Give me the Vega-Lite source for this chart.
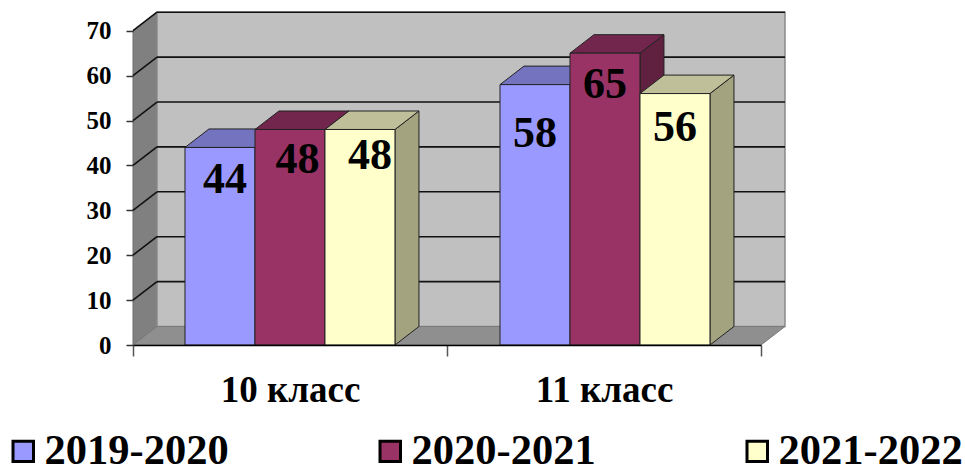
{
"$schema":"https://vega.github.io/schema/vega-lite/v6.json",
"width":628,"height":333,
"autosize":"none",
"padding":{"left":133,"top":12,"right":204,"bottom":120},
"background":"white",
"config":{"view":{"stroke":null},"font":"Liberation Serif"},
"datasets":{
"depth":[{"k":0},{"k":1}],
"ticks":[{"v":0},{"v":10},{"v":20},{"v":30},{"v":40},{"v":50},{"v":60},{"v":70}]
},
"data":{"values":[
{"klass":"10 класс","series":"2019-2020","value":44},
{"klass":"10 класс","series":"2020-2021","value":48},
{"klass":"10 класс","series":"2021-2022","value":48},
{"klass":"11 класс","series":"2019-2020","value":58},
{"klass":"11 класс","series":"2020-2021","value":65},
{"klass":"11 класс","series":"2021-2022","value":56}
]},
"transform":[
{"calculate":"datum.klass=='10 класс'?0:1","as":"gi"},
{"calculate":"indexof(['2019-2020','2020-2021','2021-2022'],datum.series)","as":"si"},
{"calculate":"datum.gi+0.1656+datum.si*0.2229+datum.gi*0.0032","as":"xl"},
{"calculate":"datum.xl+0.2229","as":"xr"},
{"calculate":"datum.klass+datum.series","as":"bar"},
{"calculate":"0","as":"zero"}
],
"layer":[
{"data":{"name":"depth"},
 "transform":[{"calculate":"datum.k*0.0764","as":"dx"},{"calculate":"datum.k*4.12","as":"yb"},{"calculate":"70+datum.k*4.12","as":"yt"}],
 "mark":{"type":"area","color":"#808080","stroke":"#6e6e6e","strokeWidth":1,"line":false},
 "encoding":{
  "x":{"field":"dx","type":"quantitative","scale":{"domain":[0,2],"nice":false},"axis":null},
  "y":{"field":"yt","type":"quantitative","stack":null,"scale":{"domain":[0,74.17],"nice":false},"axis":null},
  "y2":{"field":"yb"}
 }},
{"data":{"name":"depth"},
 "transform":[{"filter":"datum.k==1"},{"calculate":"0.0764","as":"xa"},{"calculate":"2.0764","as":"xb"},{"calculate":"4.12","as":"ya"},{"calculate":"74.12","as":"yb"}],
 "mark":{"type":"rect","color":"#C0C0C0","stroke":"#8a8a8a","strokeWidth":1.5},
 "encoding":{
  "x":{"field":"xa","type":"quantitative","axis":null,"scale":{"domain":[0,2],"nice":false}},
  "x2":{"field":"xb"},
  "y":{"field":"ya","type":"quantitative","axis":null,"scale":{"domain":[0,74.17],"nice":false}},
  "y2":{"field":"yb"}
 }},
{"data":{"name":"depth"},
 "transform":[{"calculate":"datum.k*0.0764","as":"xa"},{"calculate":"2+datum.k*0.0764","as":"xb"},{"calculate":"datum.k*4.12","as":"yf"}],
 "mark":{"type":"area","orient":"horizontal","color":"#8f8f8f","stroke":"#7a7a7a","strokeWidth":1,"line":false},
 "encoding":{
  "x":{"field":"xa","type":"quantitative","stack":null,"axis":null,"scale":{"domain":[0,2],"nice":false}},
  "x2":{"field":"xb"},
  "y":{"field":"yf","type":"quantitative","axis":null,"scale":{"domain":[0,74.17],"nice":false}}
 }},
{"data":{"name":"ticks"},
 "transform":[{"filter":"datum.v>0"},{"calculate":"0.0764","as":"xa"},{"calculate":"2.0764","as":"xb"},{"calculate":"datum.v+4.12","as":"yv"}],
 "mark":{"type":"rule","color":"#111111","strokeWidth":1.6},
 "encoding":{
  "x":{"field":"xa","type":"quantitative","axis":null,"scale":{"domain":[0,2],"nice":false}},
  "x2":{"field":"xb"},
  "y":{"field":"yv","type":"quantitative","axis":null,"scale":{"domain":[0,74.17],"nice":false}}
 }},
{"data":{"name":"ticks"},
 "transform":[{"filter":"datum.v>0"},{"calculate":"0","as":"xa"},{"calculate":"0.0764","as":"xb"},{"calculate":"datum.v+4.12","as":"yv"}],
 "mark":{"type":"rule","color":"#111111","strokeWidth":1.6},
 "encoding":{
  "x":{"field":"xa","type":"quantitative","axis":null,"scale":{"domain":[0,2],"nice":false}},
  "x2":{"field":"xb"},
  "y":{"field":"v","type":"quantitative","axis":null,"scale":{"domain":[0,74.17],"nice":false}},
  "y2":{"field":"yv"}
 }},
{"transform":[
  {"calculate":"[0,1]","as":"k"},{"flatten":["k"]},
  {"calculate":"datum.xr+datum.k*0.0764","as":"xs"},
  {"calculate":"datum.value+datum.k*4.12","as":"yt"},
  {"calculate":"datum.k*4.12","as":"yb"}],
 "mark":{"type":"area","stroke":"#222222","strokeWidth":1,"line":false},
 "encoding":{
  "x":{"field":"xs","type":"quantitative","axis":null,"scale":{"domain":[0,2],"nice":false}},
  "y":{"field":"yt","type":"quantitative","stack":null,"axis":null,"scale":{"domain":[0,74.17],"nice":false}},
  "y2":{"field":"yb"},
  "fill":{"field":"series","type":"nominal","legend":null,"scale":{"domain":["2019-2020","2020-2021","2021-2022"],"range":["#7373BF","#602040","#A3A380"]}},
  "detail":{"field":"bar"}
 }},
{"transform":[
  {"calculate":"[0,1]","as":"k"},{"flatten":["k"]},
  {"calculate":"datum.xl+datum.k*0.0764","as":"xa"},
  {"calculate":"datum.xr+datum.k*0.0764","as":"xb"},
  {"calculate":"datum.value+datum.k*4.12","as":"yt"}],
 "mark":{"type":"area","orient":"horizontal","stroke":"#222222","strokeWidth":1,"line":false},
 "encoding":{
  "x":{"field":"xa","type":"quantitative","stack":null,"axis":null,"scale":{"domain":[0,2],"nice":false}},
  "x2":{"field":"xb"},
  "y":{"field":"yt","type":"quantitative","axis":null,"scale":{"domain":[0,74.17],"nice":false}},
  "fill":{"field":"series","type":"nominal","legend":null,"scale":{"domain":["2019-2020","2020-2021","2021-2022"],"range":["#7373BF","#73264D","#BFBF99"]}},
  "detail":{"field":"bar"}
 }},
{"mark":{"type":"rect","stroke":"#222222","strokeWidth":1},
 "encoding":{
  "x":{"field":"xl","type":"quantitative","scale":{"domain":[0,2],"nice":false},
   "axis":{"values":[0,0.5,1,1.5,2],"title":null,"grid":false,"domain":true,"domainColor":"black","domainWidth":1.5,
    "tickSize":11,"tickColor":"#555555","tickWidth":1.5,
    "tickOpacity":{"condition":{"test":"datum.value==0.5||datum.value==1.5","value":0},"value":1},
    "labelExpr":"datum.value==0.5?'10 класс':datum.value==1.5?'11 класс':''",
    "labelFont":"Liberation Serif","labelFontWeight":"bold","labelFontSize":37,"labelColor":"black","labelPadding":16,"labelFlush":false,"labelOverlap":false,"labelBound":false,"zindex":1}},
  "x2":{"field":"xr"},
  "y":{"field":"value","type":"quantitative","scale":{"domain":[0,74.17],"nice":false},
   "axis":{"values":[0,10,20,30,40,50,60,70],"title":null,"grid":false,"domain":false,
    "tickSize":7,"tickColor":"#333333","tickWidth":1.5,
    "labelFont":"Liberation Serif","labelFontWeight":"bold","labelFontSize":25,"labelColor":"black","labelPadding":15,"labelOverlap":false,"labelFlush":false,"labelBound":false,"zindex":1}},
  "y2":{"field":"zero"},
  "fill":{"field":"series","type":"nominal","title":null,
   "scale":{"domain":["2019-2020","2020-2021","2021-2022"],"range":["#9999FF","#993366","#FFFFCC"]},
   "legend":{"orient":"none","legendX":-131,"legendY":418,"direction":"horizontal","columns":3,"columnPadding":140,
    "symbolType":"square","symbolSize":420,"symbolStrokeColor":"black","symbolStrokeWidth":3,"symbolOpacity":1,
    "labelFont":"Liberation Serif","labelFontWeight":"bold","labelFontSize":42.5,"labelColor":"black","labelOffset":0,"labelLimit":400,"padding":0}}
 }},
{"transform":[
  {"calculate":"(datum.xl+datum.xr)/2+(datum.gi==0?(5+datum.si*2.5)/314:0)","as":"lx"},
  {"calculate":"datum.value==58?datum.value-10.9:datum.value==44?datum.value-7.3:datum.value==65?datum.value-7.1:datum.value==56?datum.value-7.6:datum.si==1?datum.value-6.7:datum.value-6","as":"ly"}],
 "mark":{"type":"text","font":"Liberation Serif","fontWeight":"bold","fontSize":44,"color":"black","baseline":"middle","align":"center"},
 "encoding":{
  "x":{"field":"lx","type":"quantitative","axis":null,"scale":{"domain":[0,2],"nice":false}},
  "y":{"field":"ly","type":"quantitative","axis":null,"scale":{"domain":[0,74.17],"nice":false}},
  "text":{"field":"value","type":"quantitative"}
 }}
],
"resolve":{"scale":{"fill":"independent"},"axis":{"x":"independent","y":"independent"}}
}
